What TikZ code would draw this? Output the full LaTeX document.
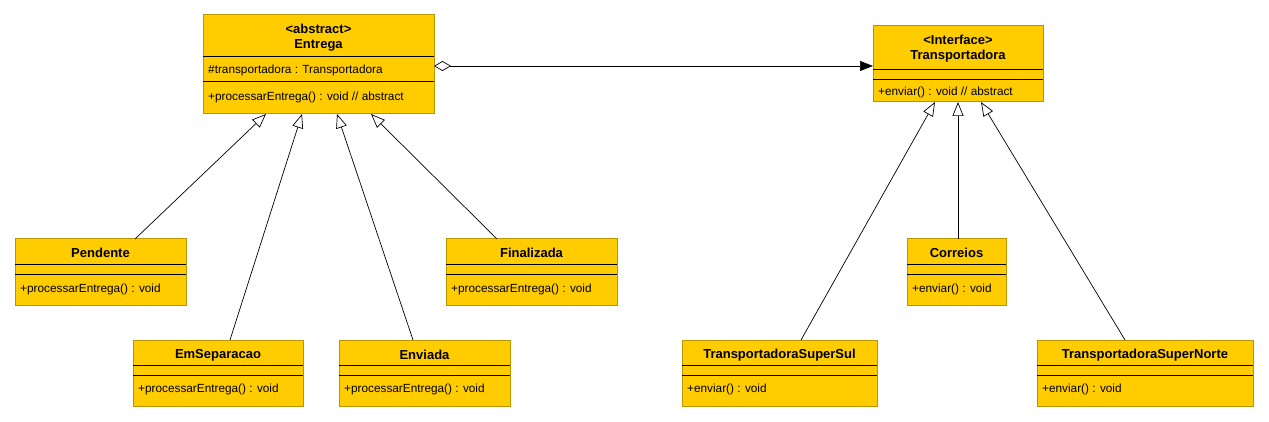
\documentclass[tikz,border=0pt]{standalone}
\usepackage{fontspec}
\setmainfont{Liberation Sans}
\usetikzlibrary{arrows.meta,fit}
\definecolor{umlfill}{RGB}{255,204,0}
\definecolor{umledge}{RGB}{185,150,0}
\begin{document}
\begin{tikzpicture}[x=1pt,y=-1pt,
  classbox/.style={draw=umledge, fill=umlfill, line width=1pt, inner sep=0pt, outer sep=0pt},
  divider/.style={draw=black, line width=0.9pt},
  titletext/.style={font=\fontsize{13}{15}\selectfont\bfseries, align=center, inner sep=0pt},
  membertext/.style={font=\fontsize{11.8}{13}\selectfont, anchor=west, inner sep=0pt},
  inherit/.style={draw=black, line width=0.7pt, -{Triangle[open,fill=white,length=14pt,width=11pt]}},
  assoc/.style={draw=black, line width=0.7pt, {Diamond[open,fill=white,length=17pt,width=10pt]}-{Triangle[length=13pt,width=10pt]}}]
\useasboundingbox (0,0) rectangle (1269,422);

% Entrega
\node[classbox, fit={(203,15) (434,114)}] (entrega) {};
\draw[divider] (203,56) -- (434,56);
\draw[divider] (203,81) -- (434,81);
\node[titletext] (entregaT) at (318.5,37.5) {<abstract>\\Entrega};
\node[membertext] (entregaA) at (208,70.5) {\#transportadora : Transportadora};
\node[membertext] (entregaM) at (208,97) {+processarEntrega() : void // abstract};

% Transportadora
\node[classbox, fit={(873,26) (1043,102)}] (transp) {};
\draw[divider] (873,69) -- (1043,69);
\draw[divider] (873,79) -- (1043,79);
\node[titletext] (transpT) at (958,49) {<Interface>\\Transportadora};
\node[membertext] (transpM) at (878,92) {+enviar() : void // abstract};

% Pendente
\node[classbox, fit={(15,239) (186,305)}] (pend) {};
\draw[divider] (15,264) -- (186,264);
\draw[divider] (15,274) -- (186,274);
\node[titletext] (pendT) at (100.5,253) {Pendente};
\node[membertext] (pendM) at (20,289) {+processarEntrega() : void};

% Finalizada
\node[classbox, fit={(446,239) (617,305)}] (final) {};
\draw[divider] (446,264) -- (617,264);
\draw[divider] (446,274) -- (617,274);
\node[titletext] (finalT) at (531.5,253) {Finalizada};
\node[membertext] (finalM) at (451,289) {+processarEntrega() : void};

% EmSeparacao
\node[classbox, fit={(133,340) (303,406)}] (emsep) {};
\draw[divider] (133,365) -- (303,365);
\draw[divider] (133,375) -- (303,375);
\node[titletext] (emsepT) at (218,355) {EmSeparacao};
\node[membertext] (emsepM) at (138,389) {+processarEntrega() : void};

% Enviada
\node[classbox, fit={(339,340) (510,406)}] (envi) {};
\draw[divider] (339,365) -- (510,365);
\draw[divider] (339,375) -- (510,375);
\node[titletext] (enviT) at (424.5,355) {Enviada};
\node[membertext] (enviM) at (344,389) {+processarEntrega() : void};

% Correios
\node[classbox, fit={(907,239) (1006,305)}] (corr) {};
\draw[divider] (907,264) -- (1006,264);
\draw[divider] (907,274) -- (1006,274);
\node[titletext] (corrT) at (956.5,253) {Correios};
\node[membertext] (corrM) at (912,289) {+enviar() : void};

% TransportadoraSuperSul
\node[classbox, fit={(682,340) (877,406)}] (sul) {};
\draw[divider] (682,365) -- (877,365);
\draw[divider] (682,375) -- (877,375);
\node[titletext] (sulT) at (779.5,355) {TransportadoraSuperSul};
\node[membertext] (sulM) at (687,389) {+enviar() : void};

% TransportadoraSuperNorte
\node[classbox, fit={(1037,340) (1253,406)}] (norte) {};
\draw[divider] (1037,365) -- (1253,365);
\draw[divider] (1037,375) -- (1253,375);
\node[titletext] (norteT) at (1145,355) {TransportadoraSuperNorte};
\node[membertext] (norteM) at (1042,389) {+enviar() : void};

% inheritance to Entrega
\draw[inherit] ([xshift=34.5pt]pend.north) -- ([xshift=-52.5pt]entrega.south);
\draw[inherit] ([xshift=12pt]emsep.north) -- ([xshift=-16.5pt]entrega.south);
\draw[inherit] ([xshift=-11.5pt]envi.north) -- ([xshift=18.5pt]entrega.south);
\draw[inherit] ([xshift=-34.5pt]final.north) -- ([xshift=52.5pt]entrega.south);

% realization to Transportadora
\draw[inherit] ([xshift=21.5pt]sul.north) -- ([xshift=-23pt]transp.south);
\draw[inherit] ([xshift=1.5pt]corr.north) -- (transp.south);
\draw[inherit] ([xshift=-20pt]norte.north) -- ([xshift=23pt]transp.south);

% aggregation
\draw[assoc] ([yshift=-1.5pt]entrega.east) -- ([yshift=-1.5pt]entrega.east -| transp.west);
\end{tikzpicture}
\end{document}
